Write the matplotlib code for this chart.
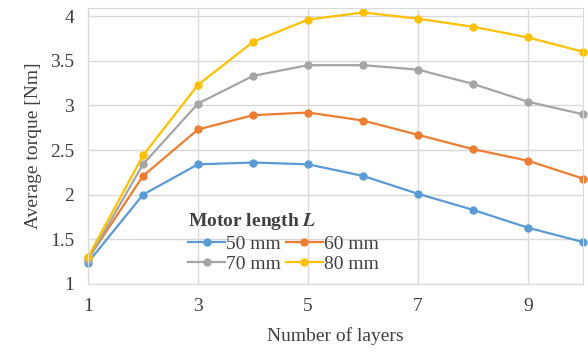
import numpy as np
import matplotlib.pyplot as plt

layers = [1, 2, 3, 4, 5, 6, 7, 8, 9, 10]
torque_50 = [1.24, 2.00, 2.34, 2.36, 2.34, 2.21, 2.01, 1.83, 1.63, 1.47]
torque_60 = [1.28, 2.21, 2.73, 2.89, 2.92, 2.83, 2.67, 2.51, 2.38, 2.18]
torque_70 = [1.27, 2.34, 3.02, 3.33, 3.45, 3.45, 3.40, 3.24, 3.04, 2.90]
torque_80 = [1.30, 2.44, 3.23, 3.71, 3.96, 4.04, 3.97, 3.88, 3.76, 3.60]
labels = ['50 mm', '60 mm', '70 mm', '80 mm']
colors = ['#5B9BD5', '#ED7D31', '#A5A5A5', '#FFC000']

plt.rcParams['font.family'] = ['Liberation Serif', 'DejaVu Serif']
plt.rcParams['mathtext.fontset'] = 'stix'

fig = plt.figure(figsize=(5.88, 3.52), dpi=100)
ax = fig.add_axes([88 / 588, 1 - 284 / 352, (583 - 88) / 588, (284 - 8) / 352])

series = [torque_50, torque_60, torque_70, torque_80]
handles = []
for vals, lab, c in zip(series, labels, colors):
    h, = ax.plot(layers, vals, color=c, lw=1.6, marker='o', ms=5, label=lab, clip_on=False)
    handles.append(h)

ax.set_xlim(1, 10)
ax.set_ylim(1, 4.09)
ax.set_xticks([1, 3, 5, 7, 9])
ax.set_yticks([1, 1.5, 2, 2.5, 3, 3.5, 4])
ax.set_yticklabels(['1', '1.5', '2', '2.5', '3', '3.5', '4'])
ax.grid(True, color='#D9D9D9', lw=1)
ax.set_axisbelow(True)
for s in ax.spines.values():
    s.set_color('#D9D9D9')
ax.tick_params(length=0, labelsize=14, colors='#404040', pad=10)
ax.set_xlabel('Number of layers', fontsize=14, color='#404040', labelpad=9)
ax.set_ylabel('Average torque [Nm]', fontsize=14, color='#404040', labelpad=6)

# legend rows: 50/60 then 70/80 (matplotlib fills by column)
order = [0, 2, 1, 3]
leg = ax.legend([handles[i] for i in order], [labels[i] for i in order],
                ncol=2, loc='lower left', bbox_to_anchor=(0.175, -0.01), frameon=False,
                fontsize=14, title='Motor length $\\mathbfit{L}$', title_fontsize=14,
                handlelength=1.9, handletextpad=0.05, columnspacing=0.25,
                labelspacing=0.15, borderpad=0.2, labelcolor='#404040')
leg.get_title().set_fontweight('bold')
leg.get_title().set_color('#404040')
leg._legend_box.align = 'left'

fig.savefig('out.png', dpi=100)
